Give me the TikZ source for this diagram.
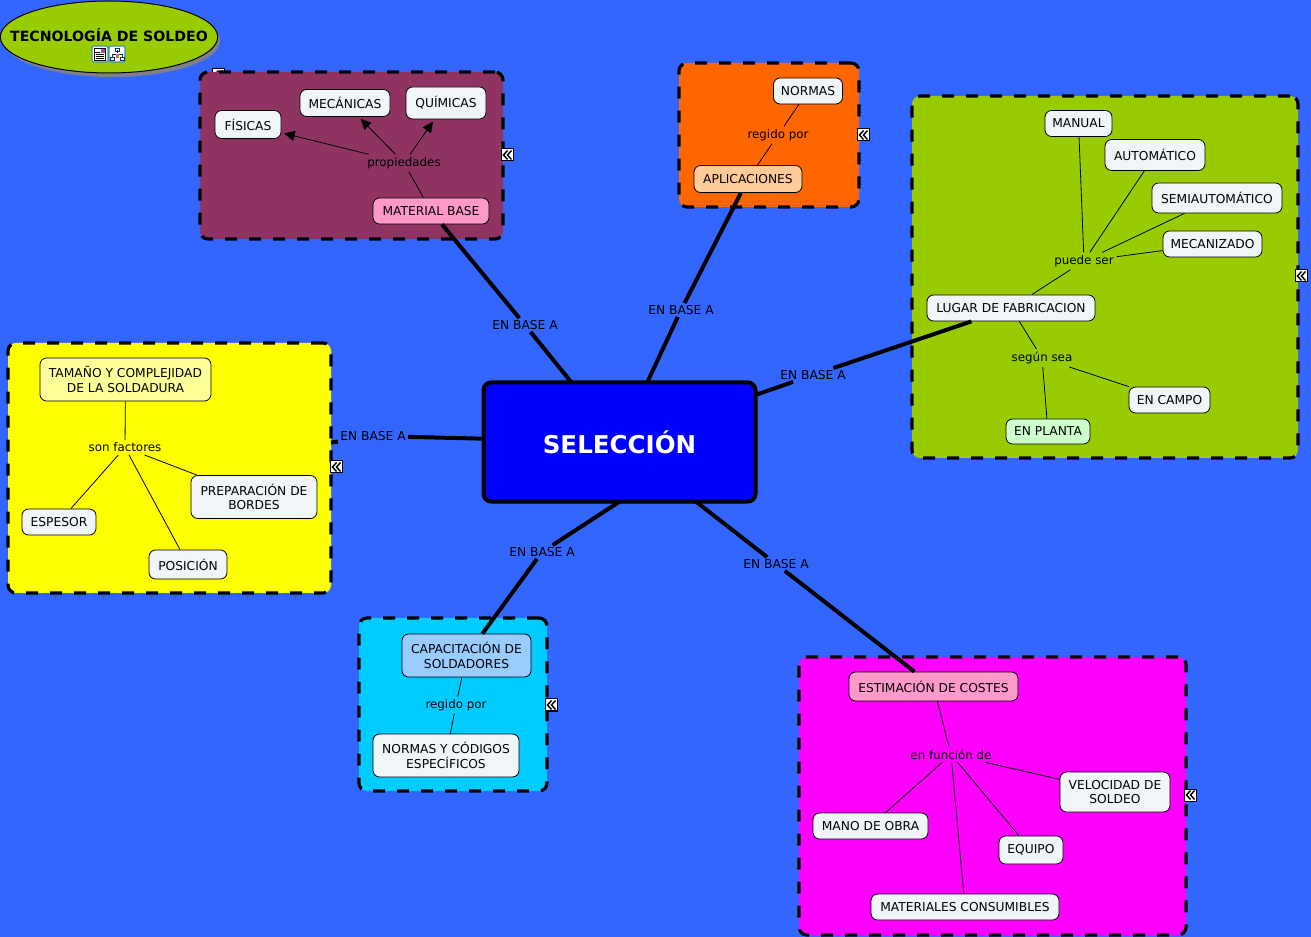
\documentclass[tikz,border=0pt]{standalone}
\usepackage{fontspec}
\setmainfont{DejaVu Sans}
\usetikzlibrary{shapes.geometric,arrows.meta}
\definecolor{bgblue}{HTML}{3366FF}
\definecolor{maroonbox}{HTML}{8F3363}
\definecolor{concept}{HTML}{F0F5F8}
\definecolor{olive}{HTML}{99CC00}
\definecolor{orangebox}{HTML}{FF6600}
\definecolor{cyanbox}{HTML}{00CCFF}
\definecolor{yellowbox}{HTML}{FFFF00}
\definecolor{magentabox}{HTML}{FF00FF}
\definecolor{pinkc}{HTML}{FF99CC}
\definecolor{peachc}{HTML}{FFCC99}
\definecolor{mintc}{HTML}{CCFFCC}
\definecolor{paleyel}{HTML}{FFFF99}
\definecolor{skyc}{HTML}{99CCFF}
\definecolor{pureblue}{HTML}{0000FF}
\definecolor{shadowc}{HTML}{80808C}
\definecolor{iconrim}{HTML}{3E8FA8}
\definecolor{iconink}{HTML}{1A2A70}
\tikzset{
 x=0.75pt,y=-0.75pt,
 pics/expander/.style={code={
   \draw[black,line width=0.75pt,fill=white] (-6,-6) rectangle (6,6);
   \draw[black,line width=1.1pt] (0.5,-4.5)--(-3.5,0)--(0.5,4.5) (4.5,-4.5)--(0.5,0)--(4.5,4.5);
 }},
 group/.style n args={3}{draw=black,line width=2.4pt,dash pattern=on 9pt off 9pt,rounded corners=6pt,fill=#3,outer sep=0pt,
   minimum width=#1*0.75pt,minimum height=#2*0.75pt,inner sep=0pt},
 cbox/.style n args={3}{draw=black,line width=0.6pt,rounded corners=5pt,fill=#3,text=black,
   minimum width=#1*0.75pt,minimum height=#2*0.75pt,inner sep=0pt,align=center,font=\fontsize{9.2pt}{11pt}\selectfont},
 phrase/.style={inner sep=2pt,text=black,font=\fontsize{8.9pt}{11pt}\selectfont},
 linkphrase/.style={inner sep=1.5pt,text=black,font=\fontsize{9.2pt}{11pt}\selectfont},
 thickline/.style={line width=3pt,black},
 thinline/.style={line width=0.6pt,black},
 arrowline/.style={line width=0.6pt,black,-{Triangle[length=8pt,width=7.5pt]},shorten >=2pt},
}
\newcommand{\groupbox}[6]{\node[group={#4}{#5}{#6},anchor=north west] (#1) at (#2,#3) {};}
\begin{document}
\begin{tikzpicture}
\useasboundingbox (0,0) rectangle (1311,937);
\fill[bgblue] (0,0) rectangle (1311,937);
% title
\fill[shadowc] (112,41) ellipse [x radius=108,y radius=36];
\node[ellipse,draw=black,line width=0.75pt,fill=olive,minimum width=163pt,minimum height=54pt,inner sep=0pt] (title) at (109,37) {};
\node[font=\fontsize{10.6pt}{13pt}\selectfont\bfseries,text=black,inner sep=0pt] (titletext) at (109,35.5) {TECNOLOGÍA DE SOLDEO};
\foreach \ix/\iy in {100/54,117/54}{
  \draw[iconrim,line width=0.8pt,fill=white,rounded corners=1.5pt] (\ix-8,\iy-8) rectangle (\ix+8,\iy+8);
}
\draw[black,line width=0.5pt,fill=white] (94.5,48.5) rectangle (105.5,60.5);
\draw[black,line width=0.5pt] (95,52.5)--(100,52.5) (96,54.5)--(104,54.5) (96,56.5)--(104,56.5) (96,58.5)--(104,58.5);
\fill[red!50!blue!70!white] (101,49.5) rectangle (105,53);
\draw[iconink,line width=0.6pt] (117,50)--(117,53) (112,58)--(112,54)--(122,54)--(122,58);
\draw[iconink,line width=0.6pt] (115,48) rectangle (119,51) (110,57) rectangle (114,60.5) (120,57) rectangle (124,60.5);
\fill[brown] (115.5,54) rectangle (118.5,58);
% expander hidden behind group
\pic at (218,75) {expander};
% groups
\groupbox{gmaterial}{200}{72}{303}{167}{maroonbox}
\groupbox{gaplic}{679}{63}{180}{144}{orangebox}
\groupbox{glugar}{912}{96}{386}{362}{olive}
\groupbox{gfactor}{8}{343}{323}{250}{yellowbox}
\groupbox{gcapac}{359}{618}{188}{173}{cyanbox}
\groupbox{gcost}{799}{657}{387}{278}{magentabox}
\foreach \ex/\ey in {507/155,863/135,1301/276,336/467,551/705,1190/795}{\pic at (\ex,\ey) {expander};}
% centre
\node[draw=black,line width=3pt,rounded corners=6pt,fill=pureblue,text=white,outer sep=0pt,minimum width=204pt,minimum height=89.5pt,inner sep=0pt,font=\fontsize{18.4pt}{20pt}\selectfont\bfseries] (sel) at (619.5,442) {SELECCIÓN};
% maroon
\node[cbox={116}{26}{pinkc}] (mb) at (431,211) {MATERIAL BASE};
\node[phrase] (prop) at (404,163) {propiedades};
\node[cbox={66}{28}{concept}] (fis) at (248,124.5) {FÍSICAS};
\node[cbox={90}{27}{concept}] (mec) at (345,103) {MECÁNICAS};
\node[cbox={80}{32}{concept}] (qui) at (446,103) {QUÍMICAS};
% orange
\node[cbox={69}{26}{concept}] (nor) at (808,91) {NORMAS};
\node[phrase] (reg1) at (778,135) {regido por};
\node[cbox={108}{27}{peachc}] (apl) at (748,179) {APLICACIONES};
% green
\node[cbox={67}{26}{concept}] (man) at (1078.5,123.5) {MANUAL};
\node[cbox={100}{31}{concept}] (aut) at (1155,155) {AUTOMÁTICO};
\node[cbox={130}{30}{concept}] (sem) at (1217,198) {SEMIAUTOMÁTICO};
\node[cbox={99}{26}{concept}] (mcz) at (1212.5,244) {MECANIZADO};
\node[phrase] (pue) at (1084,261) {puede ser};
\node[cbox={168}{26}{concept}] (lug) at (1011,308) {LUGAR DE FABRICACION};
\node[phrase] (seg) at (1042,358) {según sea};
\node[cbox={81}{26}{concept}] (cam) at (1169.5,400) {EN CAMPO};
\node[cbox={84}{25}{mintc}] (pla) at (1048,431.5) {EN PLANTA};
% yellow
\node[cbox={171}{43}{paleyel}] (tam) at (125.5,379.5) {TAMAÑO Y COMPLEJIDAD\\DE LA SOLDADURA};
\node[phrase] (son) at (125,447.5) {son factores};
\node[cbox={126}{43}{concept}] (pre) at (254,497) {PREPARACIÓN DE\\BORDES};
\node[cbox={74}{26}{concept}] (esp) at (59,522) {ESPESOR};
\node[cbox={78}{29}{concept}] (pos) at (188,564.5) {POSICIÓN};
% cyan
\node[cbox={129}{43}{skyc}] (cap) at (466.5,655.5) {CAPACITACIÓN DE\\SOLDADORES};
\node[phrase] (reg2) at (456,705) {regido por};
\node[cbox={146}{43}{concept}] (ncd) at (446,755.5) {NORMAS Y CÓDIGOS\\ESPECÍFICOS};
% magenta
\node[cbox={169}{29}{pinkc}] (est) at (933.5,686.5) {ESTIMACIÓN DE COSTES};
\node[phrase] (fun) at (951,754.5) {en función de};
\node[cbox={110}{40}{concept}] (vel) at (1115,792) {VELOCIDAD DE\\SOLDEO};
\node[cbox={115}{26}{concept}] (mob) at (870.5,826) {MANO DE OBRA};
\node[cbox={64}{28}{concept}] (equ) at (1031,850) {EQUIPO};
\node[cbox={188}{26}{concept}] (mat) at (965,907) {MATERIALES CONSUMIBLES};
% main links
\node[linkphrase] (l1) at (525,325) {EN BASE A};
\node[linkphrase] (l2) at (681,310) {EN BASE A};
\node[linkphrase] (l3) at (813,375) {EN BASE A};
\node[linkphrase] (l4) at (373,436) {EN BASE A};
\node[linkphrase] (l5) at (542,552) {EN BASE A};
\node[linkphrase] (l6) at (776,564) {EN BASE A};
\draw[thickline] (sel) -- (l1) -- (mb);
\draw[thickline] (sel) -- (l2) -- (apl);
\draw[thickline] (sel) -- (l3) -- (lug);
\draw[thickline] (sel) -- (l4) -- (gfactor);
\draw[thickline] (sel.south) -- (l5) -- (cap);
\draw[thickline] (sel) -- (l6) -- (est);
% thin links
\draw[thinline] (mb) -- (prop);
\draw[arrowline] (prop) -- (fis);
\draw[arrowline] (prop) -- (mec);
\draw[arrowline] (prop) -- (qui);
\draw[thinline] (apl) -- (reg1) -- (nor);
\draw[thinline] (lug) -- (pue);
\draw[thinline] (pue) -- (man);
\draw[thinline] (pue) -- (aut);
\draw[thinline] (pue) -- (sem);
\draw[thinline] (pue) -- (mcz);
\draw[thinline] (lug) -- (seg);
\draw[thinline] (seg) -- (cam);
\draw[thinline] (seg) -- (pla);
\draw[thinline] (tam) -- (son);
\draw[thinline] (son) -- (pre);
\draw[thinline] (son) -- (esp);
\draw[thinline] (son) -- (pos);
\draw[thinline] (cap) -- (reg2) -- (ncd);
\draw[thinline] (est) -- (fun);
\draw[thinline] (fun) -- (vel);
\draw[thinline] (fun) -- (mob);
\draw[thinline] (fun) -- (equ);
\draw[thinline] (fun) -- (mat);
\end{tikzpicture}
\end{document}
